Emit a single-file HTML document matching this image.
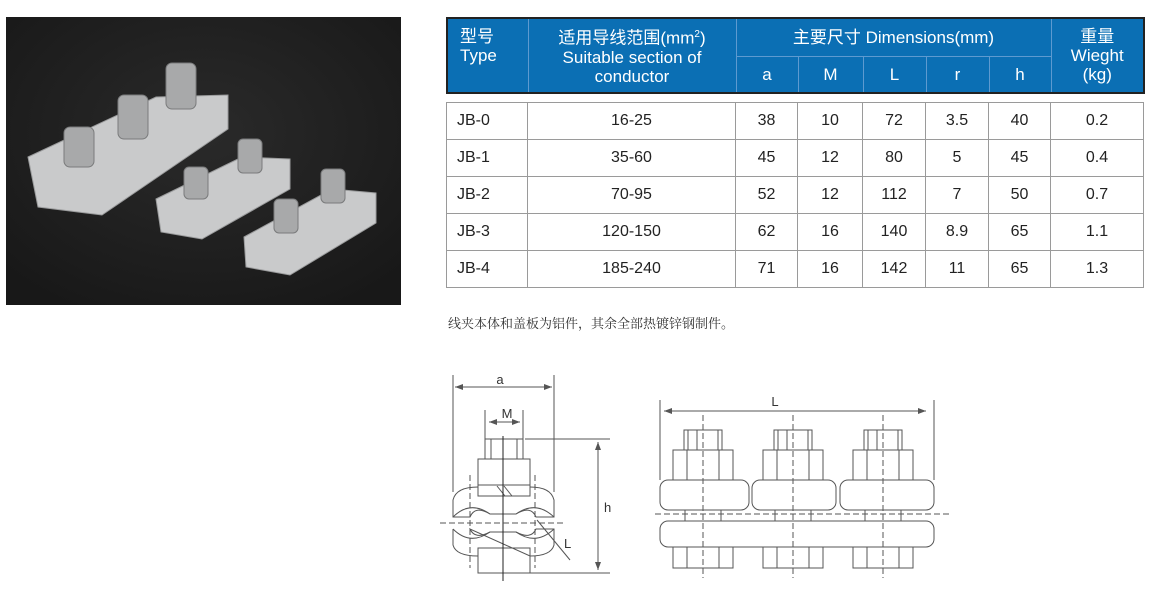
<!DOCTYPE html>
<html><head><meta charset="utf-8"><style>
body{margin:0;width:1151px;height:613px;background:#fff;position:relative;overflow:hidden;font-family:"Liberation Sans","Noto Sans CJK SC",sans-serif}
.ab{position:absolute}
table{border-collapse:collapse;position:absolute;left:446px;table-layout:fixed}
#h{top:17px;height:75px;background:#0b6fb4;color:#fff;border:2px solid #222}
#h td{border:1px solid #5d9ad0;text-align:center;font-size:17px;line-height:19px;padding:0}
#d{top:102px}
#d td{border:1px solid #9a9a9a;height:36px;text-align:center;font-size:16px;color:#222;padding:0}
#d td:first-child{text-align:left;padding-left:10px}
</style></head><body>
<svg class="ab" style="left:6px;top:17px" width="395" height="288" viewBox="0 0 395 288">
<defs><radialGradient id="bg" cx="50%" cy="40%" r="70%"><stop offset="0" stop-color="#2a2a2a"/><stop offset="1" stop-color="#181818"/></radialGradient></defs>
<rect width="395" height="288" fill="url(#bg)"/>
<g fill="#c9cacb" stroke="#9a9b9c">
<polygon points="22,140 150,80 222,78 222,112 96,198 32,190"/>
<polygon points="150,182 236,140 284,142 284,172 196,222 155,215"/>
<polygon points="238,220 326,172 370,176 370,206 284,258 240,250"/>
</g>
<g fill="#a8a9aa" stroke="#7a7b7c">
<rect x="58" y="110" width="30" height="40" rx="6"/><rect x="112" y="78" width="30" height="44" rx="6"/><rect x="160" y="46" width="30" height="46" rx="6"/>
<rect x="178" y="150" width="24" height="32" rx="5"/><rect x="232" y="122" width="24" height="34" rx="5"/>
<rect x="268" y="182" width="24" height="34" rx="5"/><rect x="315" y="152" width="24" height="34" rx="5"/>
</g></svg>

<table id="h"><colgroup><col style="width:81px"><col style="width:208px"><col style="width:62px"><col style="width:65px"><col style="width:63px"><col style="width:63px"><col style="width:62px"><col style="width:93px"></colgroup>
<tr style="height:38px"><td rowspan="2" style="text-align:left;padding-left:12px;vertical-align:top;padding-top:8px">型号<br>Type</td><td rowspan="2">适用导线范围(mm<sup style="font-size:10px">2</sup>)<br>Suitable section of<br>conductor</td><td colspan="5">主要尺寸 Dimensions(mm)</td><td rowspan="2">重量<br>Wieght<br>(kg)</td></tr>
<tr style="height:37px"><td>a</td><td>M</td><td>L</td><td>r</td><td>h</td></tr></table>

<table id="d"><colgroup><col style="width:81px"><col style="width:208px"><col style="width:62px"><col style="width:65px"><col style="width:63px"><col style="width:63px"><col style="width:62px"><col style="width:93px"></colgroup>
<tr><td>JB-0</td><td>16-25</td><td>38</td><td>10</td><td>72</td><td>3.5</td><td>40</td><td>0.2</td></tr>
<tr><td>JB-1</td><td>35-60</td><td>45</td><td>12</td><td>80</td><td>5</td><td>45</td><td>0.4</td></tr>
<tr><td>JB-2</td><td>70-95</td><td>52</td><td>12</td><td>112</td><td>7</td><td>50</td><td>0.7</td></tr>
<tr><td>JB-3</td><td>120-150</td><td>62</td><td>16</td><td>140</td><td>8.9</td><td>65</td><td>1.1</td></tr>
<tr><td>JB-4</td><td>185-240</td><td>71</td><td>16</td><td>142</td><td>11</td><td>65</td><td>1.3</td></tr></table>

<div class="ab" style="left:448px;top:313px;font-size:13px;color:#333;font-family:'Liberation Serif','Noto Serif CJK SC',serif">线夹本体和盖板为铝件，其余全部热镀锌钢制件。</div>

<svg class="ab" style="left:0;top:0" width="1151" height="613" fill="none" stroke="#555" stroke-width="1" font-family="Liberation Sans" font-size="13">
<defs><marker id="ar" markerWidth="8" markerHeight="6" refX="8" refY="3" orient="auto-start-reverse"><path d="M0,0L8,3L0,6z" fill="#555" stroke="none"/></marker>
<g id="b"><rect x="-30" y="450" width="60" height="30"/><line x1="-16" y1="450" x2="-16" y2="480"/><line x1="16" y1="450" x2="16" y2="480"/>
<rect x="-19" y="430" width="38" height="20"/><line x1="-15" y1="430" x2="-15" y2="450"/><line x1="15" y1="430" x2="15" y2="450"/><line x1="-6" y1="430" x2="-6" y2="450"/>
<rect x="-18" y="510" width="36" height="11"/>
<rect x="-30" y="547" width="60" height="21"/><line x1="-16" y1="547" x2="-16" y2="568"/><line x1="16" y1="547" x2="16" y2="568"/>
<line x1="0" y1="415" x2="0" y2="578" stroke-dasharray="6,3"/></g></defs>
<!-- left view -->
<line x1="453" y1="375" x2="453" y2="492"/><line x1="554" y1="375" x2="554" y2="492"/>
<line x1="455" y1="387" x2="552" y2="387" marker-start="url(#ar)" marker-end="url(#ar)"/>
<text x="500" y="384" fill="#333" stroke="none" text-anchor="middle">a</text>
<line x1="485" y1="410" x2="485" y2="440"/><line x1="523" y1="410" x2="523" y2="440"/>
<line x1="489" y1="422" x2="520" y2="422" marker-start="url(#ar)" marker-end="url(#ar)"/>
<text x="507" y="418" fill="#333" stroke="none" text-anchor="middle">M</text>
<rect x="485" y="439" width="38" height="20"/><line x1="491" y1="439" x2="491" y2="459"/><line x1="517" y1="439" x2="517" y2="459"/>
<rect x="478" y="459" width="52" height="37"/><line x1="478" y1="485" x2="530" y2="485"/>
<line x1="497" y1="486" x2="505" y2="496"/><line x1="504" y1="486" x2="512" y2="496"/>
<path d="M478,487 Q456,487 453,500 V517 H470 Q475,505 490,514 H516 Q531,505 536,517 H554 V500 Q551,487 530,487"/>
<path d="M453,517 Q470,500 490,514 M516,514 Q536,500 554,517"/>
<path d="M453,529 V545 Q456,556 478,556 M530,556 Q551,556 554,545 V529 H536 Q531,540 516,532 H490 Q475,540 470,529 Z"/>
<path d="M453,529 Q470,546 490,532 M516,532 Q536,546 554,529"/>
<rect x="478" y="548" width="52" height="25"/>
<line x1="503" y1="436" x2="503" y2="581" stroke="#222"/>
<line x1="440" y1="523" x2="565" y2="523" stroke-dasharray="6,3"/>
<line x1="470" y1="475" x2="470" y2="568" stroke-dasharray="6,3"/><line x1="535" y1="475" x2="535" y2="568" stroke-dasharray="6,3"/>
<line x1="537" y1="520" x2="570" y2="560"/><text x="564" y="548" fill="#333" stroke="none">L</text>
<line x1="525" y1="439" x2="610" y2="439"/><line x1="530" y1="573" x2="610" y2="573"/>
<line x1="598" y1="442" x2="598" y2="570" marker-start="url(#ar)" marker-end="url(#ar)"/>
<text x="604" y="512" fill="#333" stroke="none">h</text>
<!-- right view -->
<line x1="660" y1="400" x2="660" y2="480"/><line x1="934" y1="400" x2="934" y2="480"/>
<line x1="664" y1="411" x2="926" y2="411" marker-start="url(#ar)" marker-end="url(#ar)"/>
<text x="775" y="406" fill="#333" stroke="none" text-anchor="middle">L</text>
<rect x="660" y="480" width="89" height="30" rx="8"/><rect x="752" y="480" width="84" height="30" rx="8"/><rect x="840" y="480" width="94" height="30" rx="8"/>
<rect x="660" y="521" width="274" height="26" rx="8"/>
<use href="#b" x="703"/><use href="#b" x="793"/><use href="#b" x="883"/>
<line x1="655" y1="514" x2="950" y2="514" stroke-dasharray="6,3"/>
</svg>
</body></html>
